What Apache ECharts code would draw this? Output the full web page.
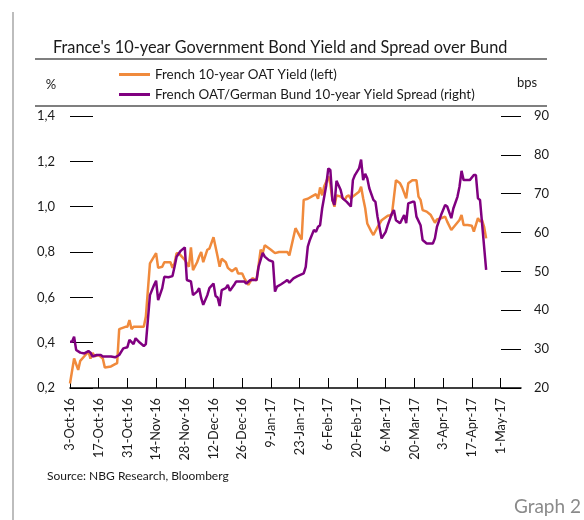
<!DOCTYPE html>
<html>
<head>
<meta charset="utf-8">
<script src="https://cdn.jsdelivr.net/npm/echarts@6/dist/echarts.min.js"></script>
<style>
html,body{margin:0;padding:0;background:#fff;}
#chart{width:584px;height:520px;}
</style>
</head>
<body>
<div id="chart"></div>
<script>
// x values are days since 3-Oct-2016
var tickLabels = ['3-Oct-16','17-Oct-16','31-Oct-16','14-Nov-16','28-Nov-16','12-Dec-16','26-Dec-16','9-Jan-17','23-Jan-17','6-Feb-17','20-Feb-17','6-Mar-17','20-Mar-17','3-Apr-17','17-Apr-17','1-May-17'];
var tickDays = [0,14,28,42,56,70,84,98,112,126,140,154,168,182,196,210];

var oatDays = [0,2,4,5,7,9,10,11,12,14,16,17,20,22,23,24,27,28,29,30,31,33,36,37,39,42,43,45,46,49,50,51,52,53,56,58,59,60,62,63,64,65,67,68,70,72,73,74,76,77,79,81,82,84,85,87,89,91,93,94,95,98,100,102,106,107,110,113,114,116,118,120,121,122,123,124,125,126,127,128,129,130,132,134,135,136,137,138,141,142,143,144,145,147,148,150,152,155,157,159,161,162,164,165,167,169,170,171,172,174,176,178,179,181,183,184,186,188,190,191,192,194,196,197,199,200,201,202,203];
var oatYield = [0.22,0.33,0.28,0.32,0.34,0.36,0.33,0.355,0.34,0.345,0.33,0.29,0.295,0.305,0.31,0.46,0.47,0.47,0.50,0.46,0.47,0.47,0.47,0.515,0.75,0.795,0.73,0.735,0.755,0.755,0.73,0.75,0.795,0.795,0.765,0.735,0.82,0.72,0.755,0.78,0.80,0.755,0.81,0.815,0.865,0.78,0.735,0.77,0.755,0.73,0.715,0.73,0.705,0.705,0.685,0.655,0.685,0.675,0.81,0.795,0.83,0.81,0.795,0.80,0.80,0.785,0.905,0.855,1.03,1.035,1.045,1.055,1.035,1.085,1.05,1.09,1.11,1.135,1.10,1.03,1.00,1.05,1.045,1.03,1.045,1.05,1.035,1.045,1.066,1.088,1.037,0.993,0.926,0.89,0.875,0.91,0.94,0.96,0.963,1.117,1.103,1.085,1.037,1.103,1.117,1.117,1.044,1.03,0.985,0.978,0.963,0.929,0.944,0.949,0.956,0.934,0.897,0.919,0.941,0.963,0.919,0.919,0.916,0.89,0.949,0.934,0.941,0.911,0.86];

var spreadDays = [0,1,2,3,5,7,9,10,11,13,15,16,20,22,24,26,28,29,31,32,34,36,37,39,41,42,43,45,46,48,50,51,52,54,56,57,59,60,62,63,64,65,67,68,70,71,72,73,74,76,77,78,80,81,85,86,88,91,92,94,95,97,99,100,101,103,105,106,107,109,111,114,115,116,117,119,120,121,122,123,125,126,127,128,129,130,132,133,135,137,138,139,141,142,143,144,145,146,148,149,150,152,154,155,157,158,159,161,163,164,165,167,168,169,171,172,174,177,178,179,181,183,184,186,187,189,190,191,192,195,197,198,199,200,203];
var spreadBps = [31.9,31.9,33.2,29.8,29.1,28.9,29.5,29.1,28.1,28.5,28.5,28.1,28.1,27.9,28.5,30.2,30.5,32.4,31.3,32.8,31.7,30.8,31.3,43.9,46.5,47.6,42.6,45.7,48.6,48.5,48.8,51.2,53.8,55.3,56.2,47.8,47.4,43.9,44.8,45.7,43.1,41.4,43.9,45.7,46.9,43.7,43.3,41.1,45.2,45.7,46.5,45.0,46.5,47.4,47.4,46.9,47.8,47.8,51.2,54.8,53.8,52.9,52.5,44.8,46.1,46.7,47.4,47.8,47.1,48.2,48.8,49.5,51.2,56.4,58.1,60.7,60.2,61.5,61.9,66.2,72.2,76.5,76.1,68.4,67.1,73.3,71.0,68.8,67.9,66.7,73.5,74.8,76.5,78.8,73.5,75.1,74.0,71.4,68.4,67.9,64.1,58.5,60.2,61.9,64.9,65.8,63.2,62.4,64.5,62.4,67.5,67.9,67.9,64.1,61.9,58.1,57.2,57.2,58.5,61.5,64.5,67.1,66.7,63.7,66.2,69.2,71.8,75.9,73.5,73.5,74.8,74.8,68.8,68.4,50.4];

function pairs(xs, ys){ return xs.map(function(x,i){ return [x, ys[i]]; }); }

var FONT = 'Lato';
var chart = echarts.init(document.getElementById('chart'), null, {renderer:'canvas'});
chart.setOption({
  animation:false,
  backgroundColor:'#fff',
  textStyle:{fontFamily:FONT},
  title:{
    text:"France's 10-year Government Bond Yield and Spread over Bund",
    left:48, top:35,
    textStyle:{fontFamily:FONT, fontSize:16.3, fontWeight:'normal', color:'#1a1a1a'}
  },
  legend:{
    orient:'vertical', left:114, top:63, itemGap:7,
    itemWidth:31, itemHeight:3, icon:'rect',
    textStyle:{fontFamily:FONT, fontSize:13.4, color:'#1a1a1a'},
    data:['French 10-year OAT Yield (left)','French OAT/German Bund 10-year Yield Spread (right)']
  },
  grid:{left:70, right:63, top:116, bottom:132, containLabel:false},
  xAxis:{
    type:'value', min:0, max:220,
    axisLine:{show:true, lineStyle:{color:'#000', width:1.5}},
    axisTick:{show:true, inside:true, length:10, customValues:tickDays, lineStyle:{color:'#000', width:1}},
    axisLabel:{customValues:tickDays, rotate:90, margin:10, fontFamily:FONT, fontSize:12.8, color:'#1a1a1a',
      formatter:function(v){ var i = tickDays.indexOf(v); return i>=0 ? tickLabels[i] : ''; }},
    splitLine:{show:false}
  },
  yAxis:[{
    type:'value', min:0.2, max:1.4, interval:0.2, position:'left',
    axisLine:{show:false},
    axisTick:{show:true, inside:true, length:23, lineStyle:{color:'#000', width:1}},
    axisLabel:{margin:15, fontFamily:FONT, fontSize:13, color:'#1a1a1a',
      formatter:function(v){ return v.toFixed(1).replace('.', ','); }},
    splitLine:{show:false}
  },{
    type:'value', min:20, max:90, interval:10, position:'right',
    axisLine:{show:false},
    axisTick:{show:true, inside:true, length:20, lineStyle:{color:'#000', width:1}},
    axisLabel:{margin:13, fontFamily:FONT, fontSize:13, color:'#1a1a1a'},
    splitLine:{show:false}
  }],
  series:[{
    name:'French 10-year OAT Yield (left)', type:'line', yAxisIndex:0,
    data:pairs(oatDays, oatYield), showSymbol:false, symbol:'none',
    lineStyle:{color:'#F08A3C', width:2.5}, itemStyle:{color:'#F08A3C'}, z:2
  },{
    name:'French OAT/German Bund 10-year Yield Spread (right)', type:'line', yAxisIndex:1,
    data:pairs(spreadDays, spreadBps), showSymbol:false, symbol:'none',
    lineStyle:{color:'#800080', width:2.5}, itemStyle:{color:'#800080'}, z:3
  }],
  graphic:[
    {type:'line', shape:{x1:13, y1:12, x2:13, y2:520}, style:{stroke:'#bdbdbd', lineWidth:2}},
    {type:'line', shape:{x1:35, y1:59, x2:547, y2:59}, style:{stroke:'#000', lineWidth:1.2}},
    {type:'line', shape:{x1:35, y1:106, x2:547, y2:106}, style:{stroke:'#000', lineWidth:1.2}},
    {type:'text', x:51, y:85, style:{text:'%', font:'13px Lato', fill:'#1a1a1a', align:'center', verticalAlign:'middle'}},
    {type:'text', x:527, y:83, style:{text:'bps', font:'13px Lato', fill:'#1a1a1a', align:'center', verticalAlign:'middle'}},
    {type:'text', x:47, y:476, style:{text:'Source: NBG Research, Bloomberg', font:'12px Lato', fill:'#1a1a1a', align:'left', verticalAlign:'middle'}},
    {type:'text', x:581, y:507, style:{text:'Graph 2', font:'19px Lato', fill:'#8a8a8a', align:'right', verticalAlign:'middle'}}
  ]
});
</script>
</body>
</html>
